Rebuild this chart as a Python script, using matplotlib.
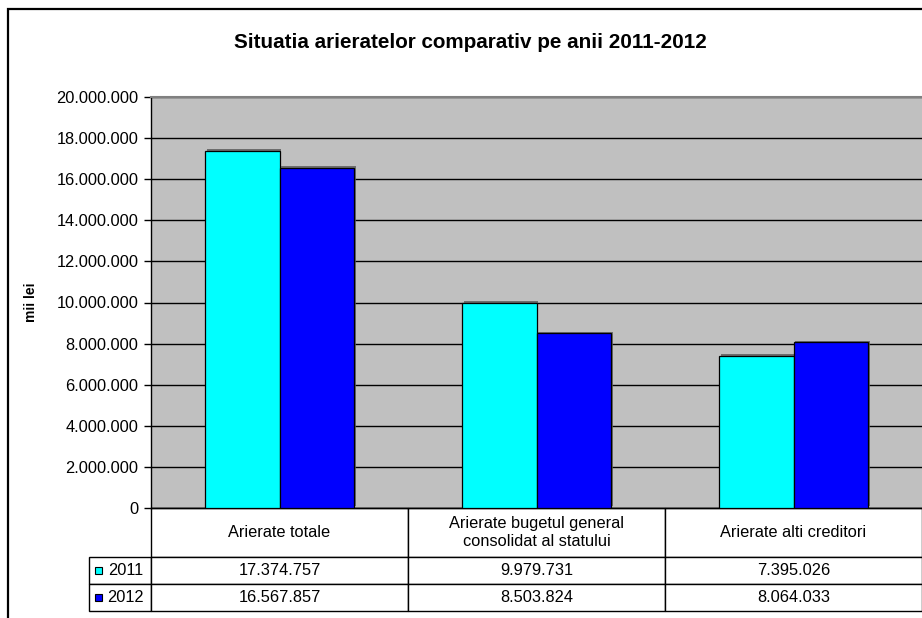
import matplotlib
matplotlib.use("Agg")
import matplotlib.pyplot as plt
import matplotlib.patheffects as pe
from matplotlib.patches import Rectangle
import numpy as np

plt.rcParams['font.family'] = ['Liberation Sans', 'DejaVu Sans']

# data
categories = ['Arierate totale',
              'Arierate bugetul general\nconsolidat al statului',
              'Arierate alti creditori']
years = ['2011', '2012']
vals_2011 = [17374757, 9979731, 7395026]
vals_2012 = [16567857, 8503824, 8064033]
colors = ['#00FFFF', '#0000FF']
yticks = np.arange(0, 20000001, 2000000)


def fmt(v):
    return '{:,.0f}'.format(v).replace(',', '.')


W, H = 922, 618
fig = plt.figure(figsize=(W / 100, H / 100), dpi=100)

# outer chart frame
fig.patches.append(Rectangle((8 / W, -0.1), 1.2, 1 - 9 / H + 0.1, transform=fig.transFigure,
                             fill=False, edgecolor='black', linewidth=1.6))

ax = fig.add_axes([151 / W, 1 - 508 / H, 771 / W, 411 / H])
ax.set_facecolor('#C0C0C0')

x = np.arange(len(categories))
bw = 0.29
shadow = [pe.SimplePatchShadow(offset=(1.2, 1.2), shadow_rgbFace='0.35', alpha=0.8), pe.Normal()]
for i, (vals, c) in enumerate(zip([vals_2011, vals_2012], colors)):
    ax.bar(x + (i - 0.5) * bw, vals, width=bw, color=c, edgecolor='black',
           linewidth=0.9, zorder=3, path_effects=shadow)

ax.set_xlim(-0.5, 2.5)
ax.set_ylim(0, 20000000)
ax.set_yticks(yticks)
ax.set_yticklabels([fmt(v) for v in yticks], fontsize=11.8)
ax.yaxis.grid(True, color='black', linewidth=1, zorder=0)
ax.set_axisbelow(True)
ax.tick_params(axis='y', direction='out', length=5, width=1, pad=4)
ax.set_xticks([])
ax.spines['left'].set_linewidth(1)
ax.spines['bottom'].set_linewidth(1)
ax.spines['top'].set_color('#808080')
ax.spines['top'].set_linewidth(1.5)
ax.spines['right'].set_visible(False)

ax.set_ylabel('mii lei', fontsize=10, fontweight='bold')
ax.yaxis.set_label_coords((38 - 151) / 771, 0.5)

fig.text(470 / W, 1 - 42 / H, 'Situatia arieratelor comparativ pe anii 2011-2012',
         ha='center', va='center', fontsize=14.9, fontweight='bold')

# data table below the axis (bbox covers the data columns; row labels sit to its left)
head_h = 49 / 411
row_h = 27 / 411
lab_w = 62 / 771
cell_text = [[fmt(v) for v in vals_2011], [fmt(v) for v in vals_2012]]
tab = ax.table(cellText=cell_text, rowLabels=years, colLabels=categories,
               cellLoc='center', rowLoc='right',
               bbox=[0, -(head_h + 2 * row_h), 1, head_h + 2 * row_h])
tab._autoColumns = [c for c in tab._autoColumns if c != -1]  # keep fixed label width
tab.auto_set_font_size(False)
tab.set_fontsize(11.8)
for (r, c), cell in tab.get_celld().items():
    cell.set_height(head_h if r == 0 else row_h)
    cell.set_width(lab_w if c == -1 else 1 / 3)
    cell.set_linewidth(1)
    cell.set_facecolor('white')
    if c == -1:
        cell.PAD = 0.12

# legend keys in row label cells
for i, c in enumerate(colors):
    yc = -(head_h + row_h * (i + 0.5))
    ax.add_patch(Rectangle(((95 - 151) / 771, yc - 3.8 / 411), 7 / 771, 7.5 / 411,
                           transform=ax.transAxes, facecolor=c, edgecolor='black',
                           linewidth=0.8, clip_on=False, zorder=5))

fig.savefig('out.png', dpi=100)
